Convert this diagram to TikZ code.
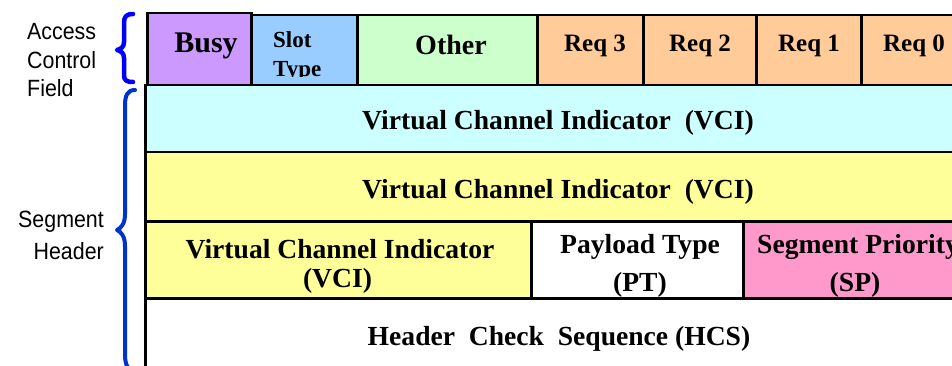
\documentclass[tikz,border=0pt]{standalone}
\usepackage{fontspec}
\setmainfont{Liberation Serif}
\newfontfamily\labelfont[FakeStretch=0.91]{Liberation Sans}
\definecolor{busyc}{HTML}{CC99FF}
\definecolor{slotc}{HTML}{99CCFF}
\definecolor{otherc}{HTML}{CCFFCC}
\definecolor{reqc}{HTML}{FFCC99}
\definecolor{vcic}{HTML}{CCFFFF}
\definecolor{yelc}{HTML}{FFFF99}
\definecolor{spc}{HTML}{FF99CC}
\definecolor{accbrace}{HTML}{0000FF}
\definecolor{segbrace}{HTML}{0033CC}
\tikzset{
  field/.style={draw=black, line width=2.5pt, rectangle, inner sep=0pt, anchor=north west},
  ftext/.style={font=\bfseries\fontsize{#1}{#1}\selectfont, anchor=base, inner sep=0pt},
  sidelabel/.style={font=\labelfont\fontsize{23.5}{28}\selectfont, inner sep=0pt},
  bracket/.style={line width=4.5pt, line cap=round, line join=round},
}
\begin{document}
\begin{tikzpicture}[x=1pt, y=1pt]
\useasboundingbox (0,0) rectangle (952,-366);
\clip (0,0) rectangle (952,-366);

% access control field
\node[field, fill=busyc,  minimum width=104pt, minimum height=72pt] (busy)  at (146,-12) {};
\node[field, fill=slotc,  minimum width=106pt, minimum height=70pt] (slot)  at (250,-14) {};
\node[field, fill=otherc, minimum width=180pt, minimum height=70pt] (other) at (356,-14) {};
\node[field, fill=reqc,   minimum width=106pt, minimum height=70pt] (req3)  at (536,-14) {};
\node[field, fill=reqc,   minimum width=113pt, minimum height=70pt] (req2)  at (642,-14) {};
\node[field, fill=reqc,   minimum width=105pt, minimum height=70pt] (req1)  at (755,-14) {};
\node[field, fill=reqc,   minimum width=112pt, minimum height=70pt] (req0)  at (860,-14) {};

\node[ftext=30] (tbusy) at (206,-53) {Busy};
\begin{scope}
  \clip (250,-14) rectangle (356,-77);
  \node[ftext=23, anchor=base west] (tslot) at (273,-48) {Slot};
  \node[ftext=23, anchor=base west] (ttype) at (273,-77) {Type};
\end{scope}
\node[ftext=28] (tother) at (451,-55) {Other};
\node[ftext=25] (treq3) at (595,-52) {Req 3};
\node[ftext=25] (treq2) at (700,-52) {Req 2};
\node[ftext=25] (treq1) at (809,-52) {Req 1};
\node[ftext=25] (treq0) at (914,-52) {Req 0};

% segment header
\node[field, fill=vcic, minimum width=828pt, minimum height=67pt] (vcia) at (144,-84) {};
\node[field, fill=yelc, minimum width=828pt, minimum height=69pt] (vcib) at (144,-151) {};
\node[field, fill=yelc, minimum width=386pt, minimum height=77pt] (vcic) at (144,-220) {};
\node[field, fill=white, minimum width=212pt, minimum height=77pt] (pt) at (530,-220) {};
\node[field, fill=spc, minimum width=230pt, minimum height=77pt] (sp) at (742,-220) {};
\node[field, fill=white, minimum width=828pt, minimum height=90pt] (hcs) at (144,-297) {};

\node[ftext=27.6] (tvcia) at (558,-130) {Virtual Channel Indicator\ \ (VCI)};
\node[ftext=27.6] (tvcib) at (558,-198) {Virtual Channel Indicator\ \ (VCI)};
\node[ftext=27.6] (tvcic1) at (340,-258) {Virtual Channel Indicator};
\node[ftext=27.6] (tvcic2) at (337.5,-287) {(VCI)};
\node[ftext=27.6] (tpt1) at (640,-253) {Payload Type};
\node[ftext=27.6] (tpt2) at (640,-291) {(PT)};
\node[ftext=27.6, anchor=base west] (tsp1) at (757,-253) {Segment Priority};
\node[ftext=27.6] (tsp2) at (855,-291) {(SP)};
\node[ftext=27.6] (thcs) at (559,-345) {Header\ \ Check\ \ Sequence (HCS)};

% side labels
\node[sidelabel, anchor=base west] (lacc) at (27,-40) {Access};
\node[sidelabel, anchor=base west] (lctl) at (27,-69) {Control};
\node[sidelabel, anchor=base west] (lfld) at (27,-97) {Field};
\node[sidelabel, anchor=base east] (lseg) at (104,-227) {Segment};
\node[sidelabel, anchor=base east] (lhdr) at (104,-259) {Header};

% braces
\draw[bracket, draw=accbrace] (133,-14) .. controls (126,-14) and (124,-17) .. (124,-23) -- (124,-42)
  .. controls (124,-47) and (121,-49) .. (117,-50)
  .. controls (121,-51) and (124,-53) .. (124,-58) -- (124,-75)
  .. controls (124,-80) and (126,-82) .. (133,-82);
\draw[bracket, line width=4pt, draw=segbrace] (135,-90) .. controls (127,-90) and (125,-96) .. (125,-106) -- (125,-214)
  .. controls (125,-224) and (121,-228) .. (117,-230)
  .. controls (121,-232) and (125,-236) .. (125,-246) -- (125,-354)
  .. controls (125,-366) and (128,-370) .. (136,-372);
\end{tikzpicture}
\end{document}
